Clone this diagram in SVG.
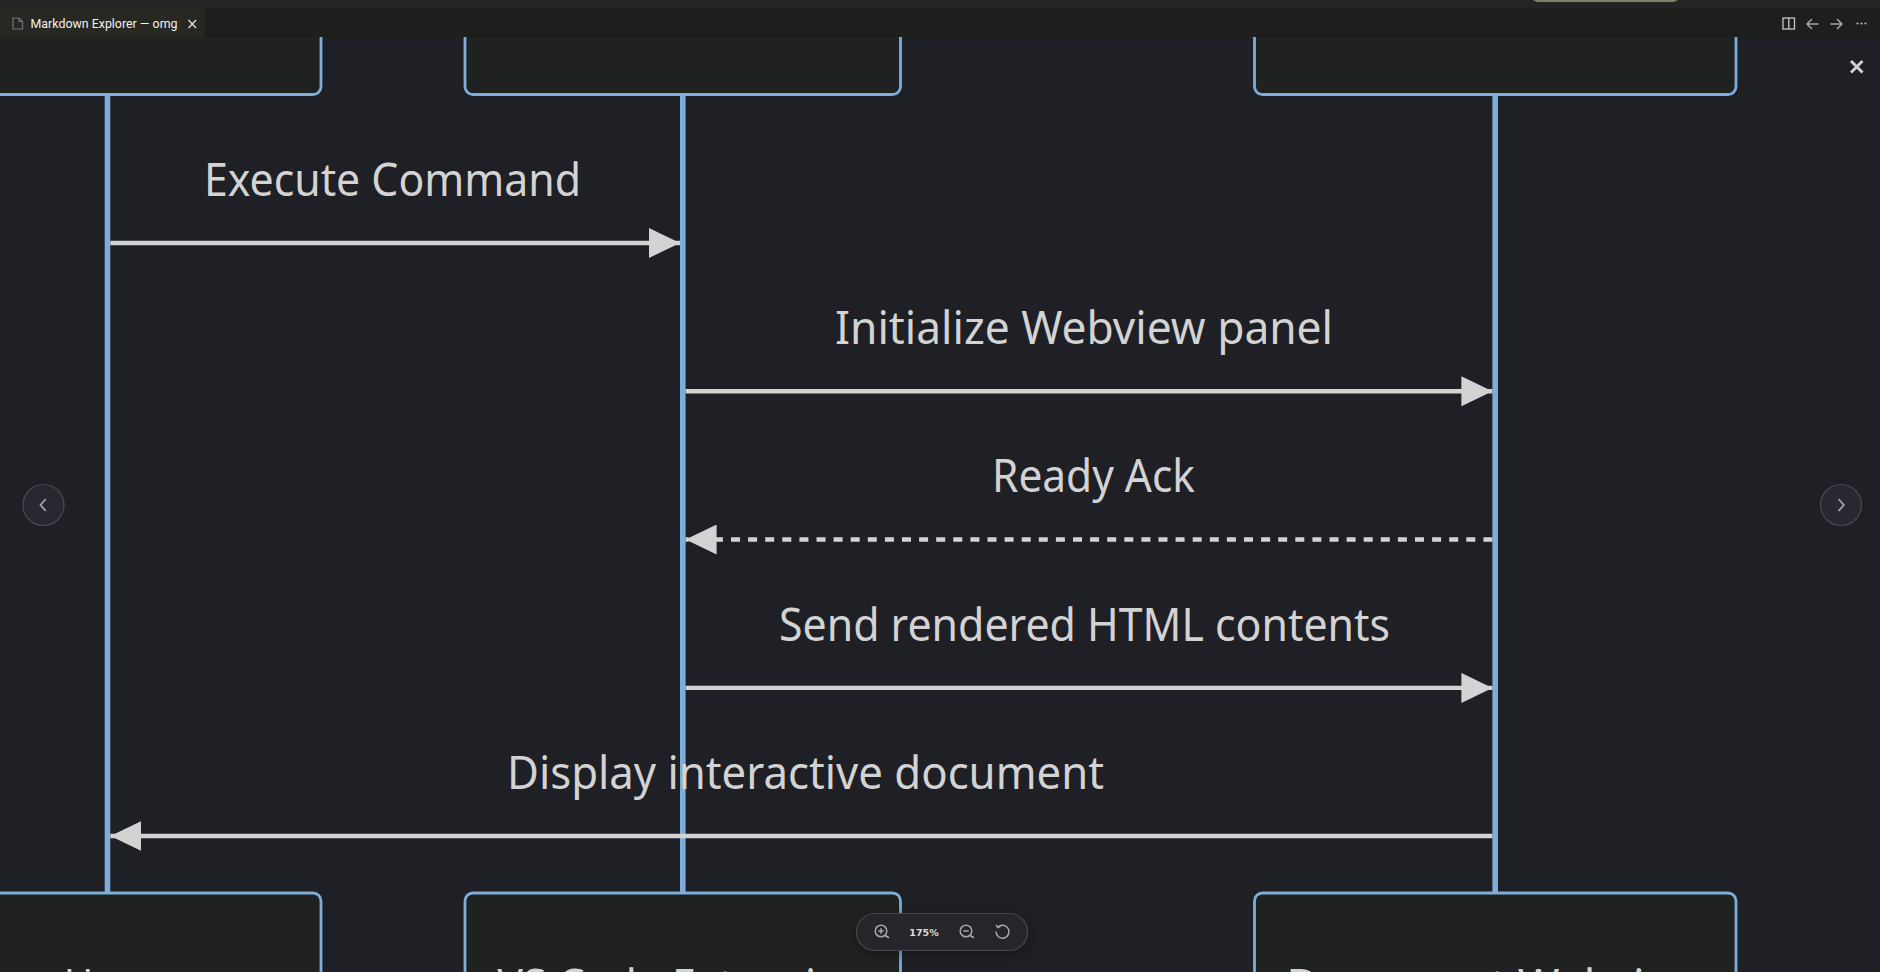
<svg xmlns="http://www.w3.org/2000/svg" width="1880" height="972" viewBox="0 0 1880 972">
<style>
.actor{fill:#202221;stroke:#7dadd8;stroke-width:2.8}
.life{stroke:#7dadd8;stroke-width:5.6;fill:none}
.msg{stroke:#d3d3d3;stroke-width:4.4;fill:none}
.dash{stroke-dasharray:9 8.1}
.t{font-family:"Noto Sans","Liberation Sans",sans-serif;font-size:45.6px;fill:#d3d3d3;text-anchor:middle}
.ui{fill:none;stroke:#a5a5ac;stroke-width:1.5;stroke-linecap:round;stroke-linejoin:round}
.nav{fill:#282830;stroke:#4a4a52;stroke-width:1.2}
</style>
<defs>
<marker id="ah" markerUnits="userSpaceOnUse" markerWidth="32" markerHeight="30" refX="31" refY="15" orient="auto-start-reverse"><path d="M0 0L31 15L0 30Z" fill="#d3d3d3"/></marker>
<filter id="sh" x="-20%" y="-60%" width="140%" height="220%"><feDropShadow dx="0" dy="3" stdDeviation="7" flood-color="#000" flood-opacity=".35"/></filter>
</defs>
<rect width="1880" height="972" fill="#1f1f26"/>
<g id="lifelines">
<path class="life" d="M107.5 94V893"/>
<path class="life" d="M682.8 94V893"/>
<path class="life" d="M1495.2 94V893"/>
</g>
<g id="node-user-top"><rect class="actor" x="-100" y="-20" width="421" height="114.5" rx="8"/></g>
<g id="node-ext-top"><rect class="actor" x="465" y="-20" width="435.5" height="114.5" rx="8"/></g>
<g id="node-web-top"><rect class="actor" x="1254.5" y="-20" width="481.5" height="114.5" rx="8"/></g>
<g id="node-user-bottom"><rect class="actor" x="-100" y="893" width="421" height="120" rx="8"/><text class="t" x="107.5" y="1001.500" textLength="87" lengthAdjust="spacingAndGlyphs">User</text></g>
<g id="node-ext-bottom"><rect class="actor" x="465" y="893" width="435.5" height="120" rx="8"/><text class="t" x="682.8" y="1001.500" textLength="371" lengthAdjust="spacingAndGlyphs">VS Code Extension</text></g>
<g id="node-web-bottom"><rect class="actor" x="1254.5" y="893" width="481.5" height="120" rx="8"/><text class="t" x="1495.2" y="1001.500" textLength="418" lengthAdjust="spacingAndGlyphs">Document Webview</text></g>
<g id="connectors">
<path class="msg" d="M110.3 243H680" marker-end="url(#ah)"/>
<path class="msg" d="M685.6 391.300H1492.4" marker-end="url(#ah)"/>
<path class="msg dash" d="M1492.4 539.500H685.6" marker-end="url(#ah)"/>
<path class="msg" d="M685.6 687.900H1492.4" marker-end="url(#ah)"/>
<path class="msg" d="M1492.4 836H110.3" marker-end="url(#ah)"/>
</g>
<g id="labels">
<text class="t" x="392.5" y="195.500" textLength="377" lengthAdjust="spacingAndGlyphs">Execute Command</text>
<text class="t" x="1084" y="343.900" textLength="498" lengthAdjust="spacingAndGlyphs">Initialize Webview panel</text>
<text class="t" x="1093.5" y="492.200" textLength="203" lengthAdjust="spacingAndGlyphs">Ready Ack</text>
<text class="t" x="1084.5" y="640.500" textLength="611" lengthAdjust="spacingAndGlyphs">Send rendered HTML contents</text>
<text class="t" x="805.5" y="788.900" textLength="597" lengthAdjust="spacingAndGlyphs">Display interactive document</text>
</g>
<g id="titlebar">
<rect width="1880" height="9" fill="#242424"/>
<rect y="9" width="1880" height="28" fill="#1e1f1c"/>
<rect y="9" width="205" height="28" fill="#272822"/>
<path d="M1533 0H1678L1674 2H1537Z" fill="#7f7f68"/>
<path d="M13 18H19L22.5 21.5V29H13Z M19 18V21.5H22.5" fill="none" stroke="#6c7480" stroke-width="1.2"/>
<text x="30.500" y="28.300" font-family="Roboto,'Liberation Sans',sans-serif" font-size="12.400" fill="#f0f0f0">Markdown Explorer — omg</text>
<path d="M188.500 20L196 28M196 20L188.500 28" stroke="#e0e0e0" stroke-width="1.300" fill="none"/>
<g fill="none" stroke-width="1.300">
<rect x="1783" y="18" width="11.500" height="11" stroke="#c8c8c8"/><path d="M1788.800 18V29" stroke="#c8c8c8"/>
<path class="ui" d="M1818 24H1807M1811.500 19.500L1807 24L1811.500 28.500"/>
<path class="ui" d="M1831 24H1842M1837.500 19.500L1842 24L1837.500 28.500"/>
</g>
<g fill="#b4b4b4"><circle cx="1857.500" cy="23.500" r="1.100"/><circle cx="1861.500" cy="23.500" r="1.100"/><circle cx="1865.500" cy="23.500" r="1.100"/></g>
</g>
<g id="close"><path d="M1851 61L1862.500 72.500M1862.500 61L1851 72.500" stroke="#cfcfcf" stroke-width="3" fill="none"/></g>
<g id="nav-prev"><circle class="nav" cx="43.500" cy="505" r="20.500"/><path d="M45.800 499L40.500 505L45.800 511" fill="none" stroke="#a3a3b0" stroke-width="1.800"/></g>
<g id="nav-next"><circle class="nav" cx="1841" cy="505" r="20.500"/><path d="M1838.500 499L1843.800 505L1838.500 511" fill="none" stroke="#a3a3b0" stroke-width="1.800"/></g>
<g id="zoom-bar">
<rect x="856.500" y="913.500" width="171" height="37" rx="18.500" fill="#26262c" stroke="#47474d" stroke-width="1.200" filter="url(#sh)"/>
<circle class="ui" cx="881" cy="931" r="5.800"/><path class="ui" d="M885.200 935.500L888.500 937.500M878.800 931H883.200M881 928.800V933.200"/>
<text x="924" y="936" font-family="'DejaVu Sans',sans-serif" font-weight="700" font-size="9.500" fill="#dcdcdc" text-anchor="middle">175%</text>
<circle class="ui" cx="966" cy="931" r="5.800"/><path class="ui" d="M970.200 935.500L973.500 937.500M963.800 931H968.200"/>
<path class="ui" d="M998 927A6.500 6.500 0 1 1 996 932M996.500 925.500L997.800 927.500L1000 926.500"/>
</g>
</svg>
